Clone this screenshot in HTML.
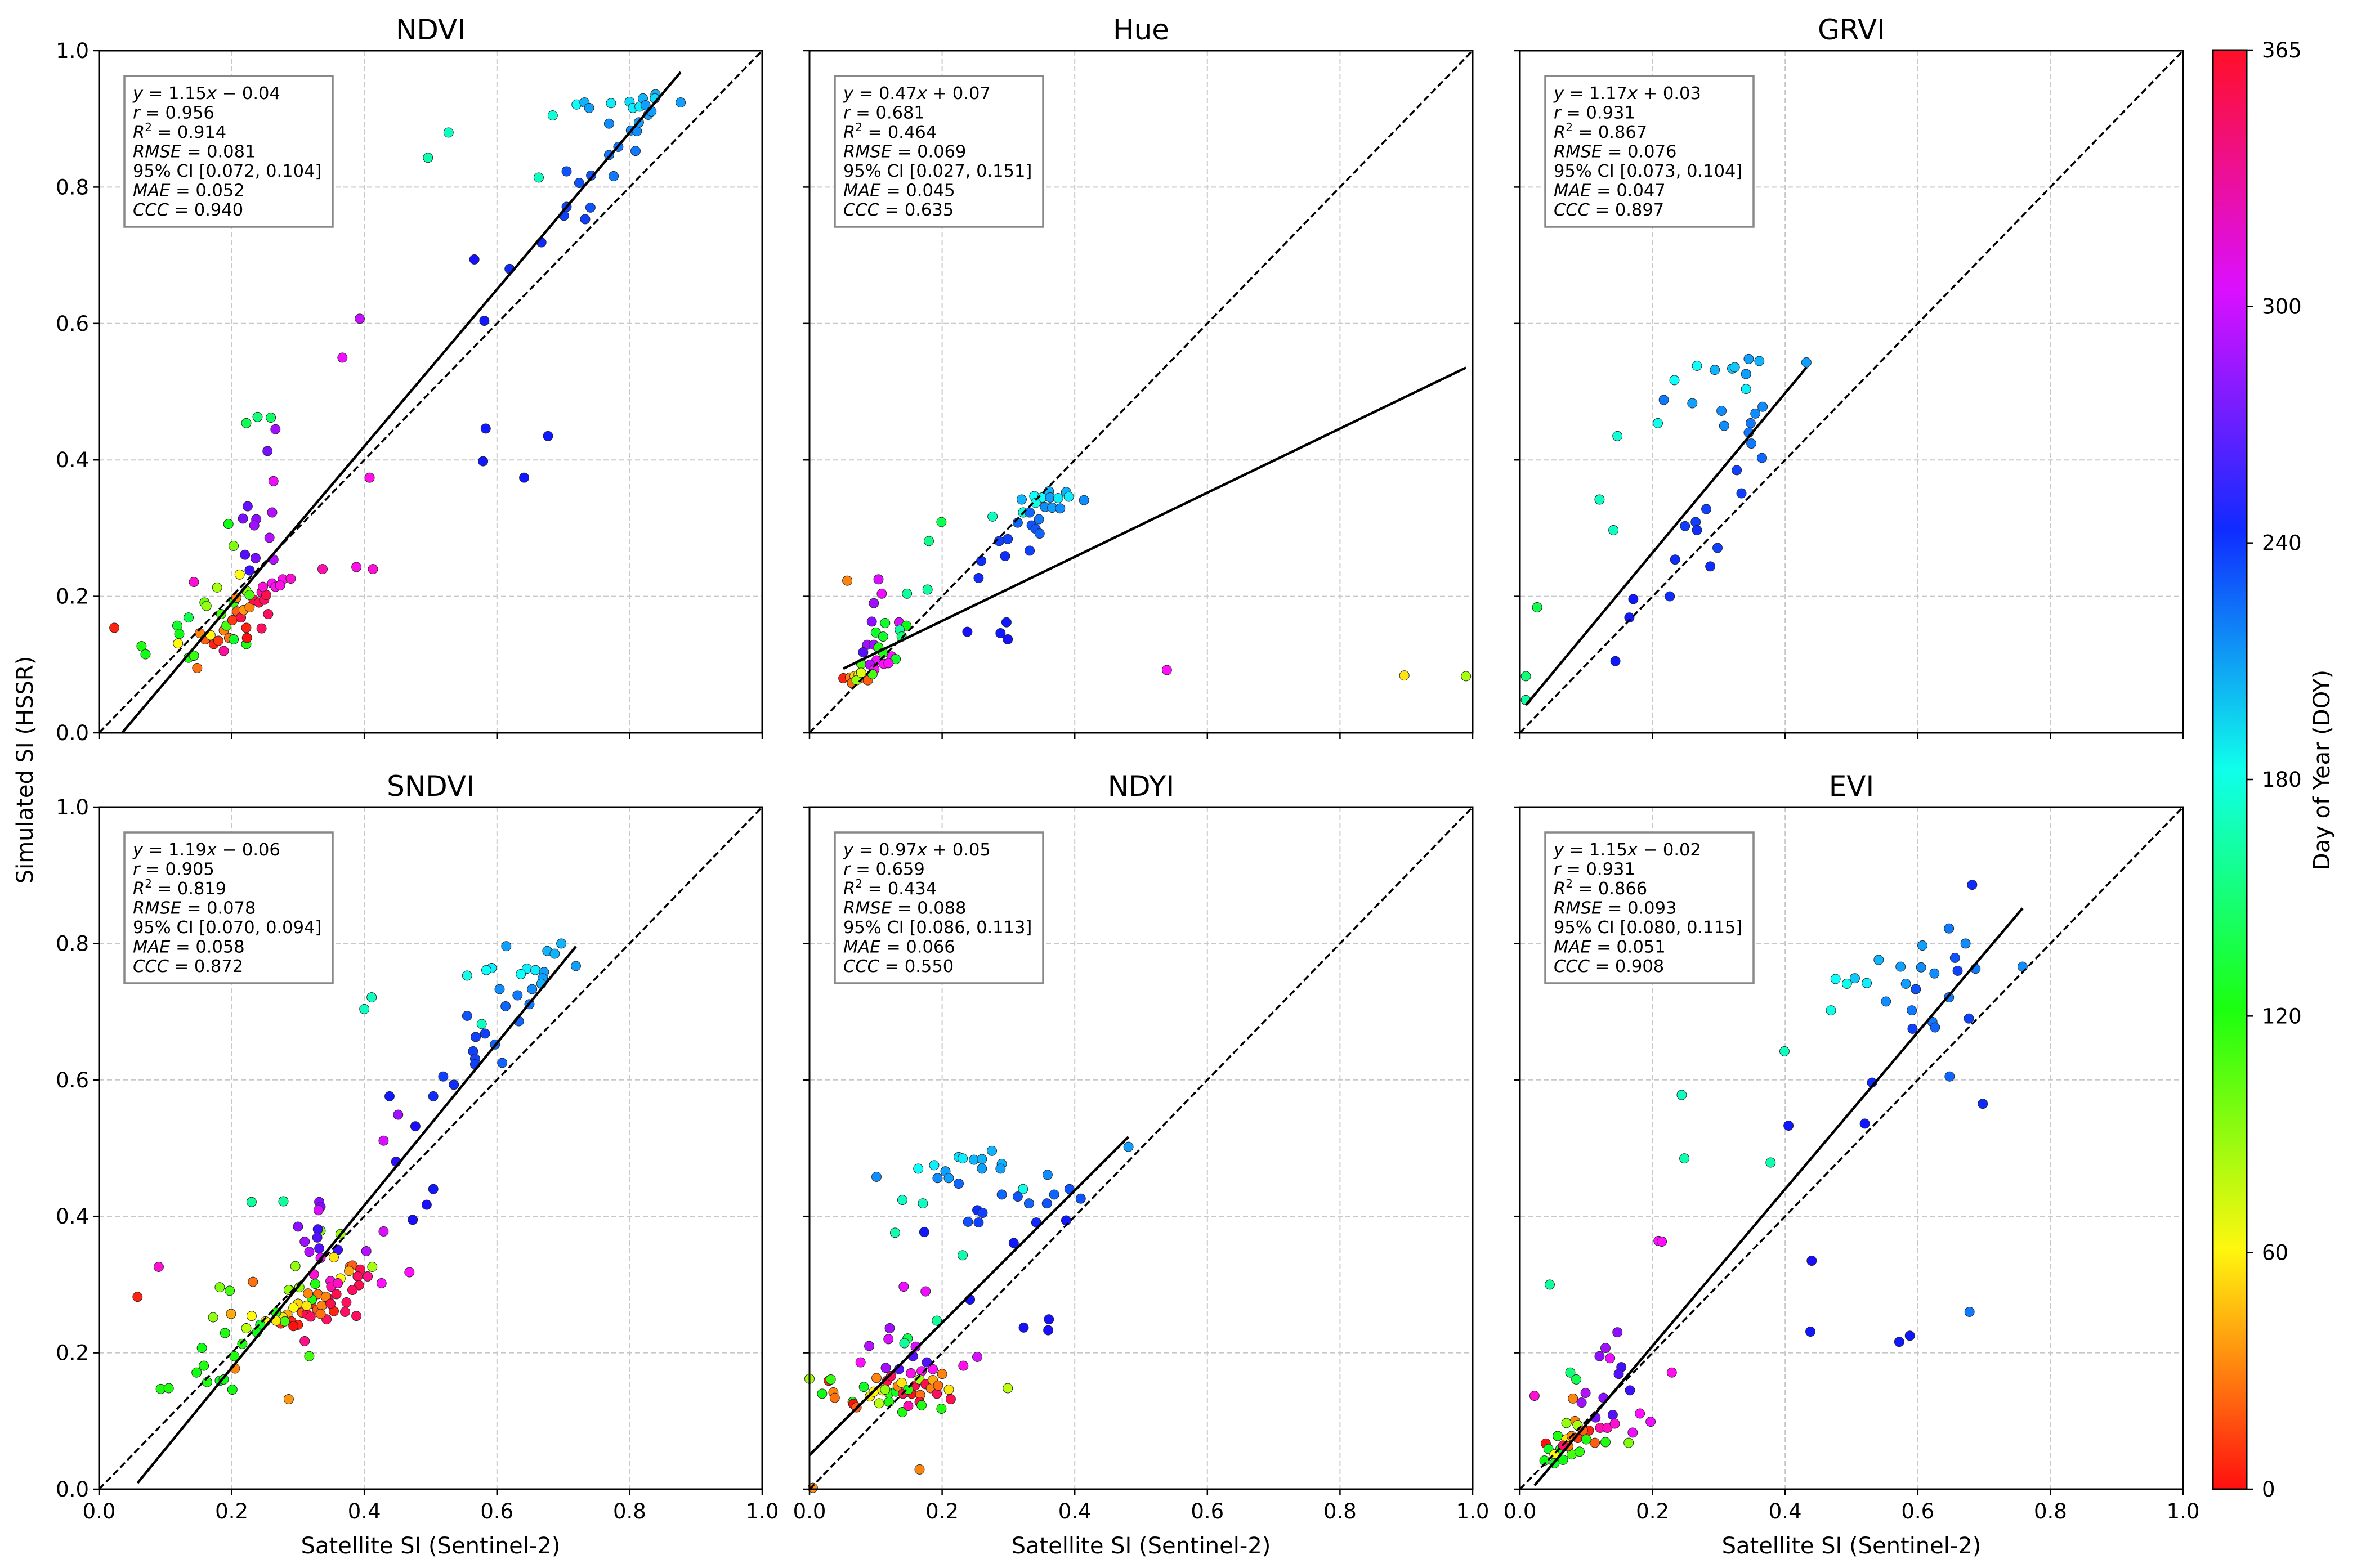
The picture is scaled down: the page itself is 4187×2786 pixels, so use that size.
<!DOCTYPE html>
<html><head><meta charset="utf-8"><title>Satellite vs Simulated SI</title>
<style>
html,body{margin:0;padding:0;background:#fff;}
svg{display:block;font-family:"DejaVu Sans","Liberation Sans",sans-serif;}
</style></head>
<body>
<svg id="fig" xmlns="http://www.w3.org/2000/svg" width="4187" height="2786" viewBox="0 0 4187 2786">
<rect x="0" y="0" width="4187" height="2786" fill="#fff"/>
<defs>
<linearGradient id="cbg" x1="0" y1="1" x2="0" y2="0">
<stop offset="0" stop-color="hsl(0,100%,53%)"/>
<stop offset="0.1667" stop-color="hsl(58,100%,53%)"/>
<stop offset="0.3333" stop-color="hsl(117,100%,53%)"/>
<stop offset="0.5" stop-color="hsl(175,100%,53%)"/>
<stop offset="0.6667" stop-color="hsl(233,100%,53%)"/>
<stop offset="0.8333" stop-color="hsl(291,100%,53%)"/>
<stop offset="1" stop-color="hsl(354,100%,53%)"/>
</linearGradient>
</defs>
<g id="panels"></g>
<g id="cbar">
<rect x="3931" y="89" width="60" height="2557" fill="url(#cbg)" stroke="#000" stroke-width="3"/>
</g>
<text x="0" y="0" transform="translate(58,1368) rotate(-90)" text-anchor="middle" font-size="40">Simulated SI (HSSR)</text>
<text x="0" y="0" transform="translate(4138,1368) rotate(-90)" text-anchor="middle" font-size="40">Day of Year (DOY)</text>
</svg>
<script>
const NS="http://www.w3.org/2000/svg";
// ---------------- data ----------------
const panelNames=["NDVI","Hue","GRVI","SNDVI","NDYI","EVI"];
const tickVals=[0,0.2,0.4,0.6,0.8,1.0];
const tickLabels=["0.0","0.2","0.4","0.6","0.8","1.0"];
const cbTicks=[0,60,120,180,240,300,365];
const cbTickLabels=["0","60","120","180","240","300","365"];

const ndviSat=[.023,.064,.070,.118,.135,.121,.119,.135,.143,.148,
.143,.159,.162,.178,.184,.152,.160,.168,.173,.180,
.188,.192,.188,.196,.201,.203,.207,.208,.214,.218,
.222,.222,.223,.227,.203,.233,.241,.245,.249,.255,
.245,.252,.195,.203,.212,.222,.227,.222,.239,.259,
.266,.254,.263,.261,.224,.217,.237,.234,.257,.220,
.236,.263,.227,.247,.261,.266,.277,.289,.273,.337,
.388,.413,.367,.393,.408,.496,.527,.566,.581,.619,
.583,.579,.641,.677,.667,.663,.684,.701,.705,.705,
.724,.733,.741,.742,.720,.732,.739,.772,.769,.769,
.776,.783,.800,.805,.802,.809,.811,.815,.814,.820,
.824,.828,.833,.839,.838,.877];
const ndviSim=[.154,.127,.115,.157,.169,.145,.131,.110,.113,.095,
.221,.191,.186,.213,.174,.146,.137,.143,.130,.135,
.150,.157,.120,.139,.165,.191,.198,.178,.169,.180,
.154,.130,.139,.184,.137,.195,.191,.206,.195,.174,
.153,.202,.306,.274,.232,.208,.202,.454,.463,.462,
.445,.413,.369,.323,.332,.314,.313,.304,.286,.261,
.256,.254,.238,.214,.219,.214,.225,.226,.216,.240,
.243,.240,.550,.607,.374,.843,.880,.694,.604,.680,
.446,.398,.374,.435,.719,.814,.905,.758,.771,.823,
.806,.753,.770,.817,.921,.924,.916,.923,.893,.847,
.816,.859,.925,.916,.883,.853,.882,.918,.895,.930,
.920,.906,.911,.936,.930,.924];
const ndviDoy=[5,120,125,130,140,125,60,120,115,25,
320,100,90,85,110,30,20,60,5,10,
30,110,335,25,10,115,30,20,355,35,
5,120,0,30,130,355,355,330,350,350,
350,355,125,95,60,90,110,140,150,145,
285,275,305,290,270,275,280,285,290,265,
275,290,260,320,310,315,315,320,315,330,
315,320,305,295,315,165,170,250,245,240,
245,245,245,245,240,170,175,235,235,230,
230,235,230,230,185,205,210,190,215,220,
220,220,195,190,215,220,215,190,210,205,
210,210,210,205,195,210];

const hueSat=[.057,.104,.109,.097,.094,.135,.114,.146,.136,.100,
.111,.139,.087,.097,.081,.104,.111,.124,.130,.078,
.101,.112,.119,.091,.098,.051,.061,.068,.074,.081,
.088,.064,.071,.095,.078,.178,.180,.199,.147,.276,
.320,.339,.351,.361,.363,.375,.387,.391,.414,.355,
.366,.378,.341,.322,.332,.346,.314,.335,.341,.347,
.286,.299,.295,.332,.259,.255,.238,.288,.297,.299,
.539,.897,.990];
const hueSim=[.223,.225,.204,.190,.163,.162,.161,.157,.151,.147,
.141,.141,.129,.129,.118,.125,.117,.112,.108,.101,
.106,.101,.102,.100,.093,.080,.081,.083,.085,.080,
.077,.073,.077,.086,.088,.210,.281,.309,.204,.317,
.342,.347,.345,.354,.345,.344,.353,.346,.341,.331,
.330,.329,.337,.323,.323,.313,.308,.304,.299,.292,
.281,.284,.259,.267,.252,.227,.148,.146,.162,.137,
.092,.084,.083];
const hueDoy=[30,300,305,285,280,300,130,125,160,130,
130,150,285,285,265,120,120,310,130,110,
305,310,310,290,310,5,30,50,60,25,
20,25,90,110,70,160,155,140,160,170,
205,185,185,205,210,190,205,190,215,215,
210,215,180,175,225,220,225,230,230,225,
235,235,240,235,240,240,250,245,245,250,
310,55,85];

const grviSat=[.267,.294,.320,.324,.345,.361,.341,.233,.341,.432,
.217,.260,.304,.366,.355,.308,.348,.208,.345,.349,
.365,.147,.327,.334,.281,.120,.265,.249,.267,.141,
.298,.234,.287,.226,.171,.165,.026,.144,.009,.009];
const grviSim=[.538,.532,.534,.536,.548,.545,.526,.517,.504,.543,
.488,.483,.472,.478,.468,.450,.454,.454,.440,.424,
.403,.435,.385,.351,.328,.342,.309,.303,.297,.297,
.271,.254,.244,.200,.196,.169,.184,.105,.083,.048];
const grviDoy=[185,205,200,200,210,205,210,185,190,210,
220,210,215,215,215,215,220,180,220,220,
225,175,235,235,235,170,235,235,240,170,
235,240,240,240,245,245,140,245,150,160];

const sndviSat=[.697,.614,.676,.687,.592,.584,.555,.645,.658,.636,
.671,.719,.669,.667,.604,.653,.631,.649,.411,.400,
.613,.555,.633,.577,.582,.568,.597,.564,.567,.567,
.608,.519,.535,.438,.504,.451,.477,.429,.448,.504,
.494,.473,.230,.278,.332,.334,.331,.300,.334,.330,
.364,.310,.329,.429,.403,.317,.332,.360,.334,.354,
.090,.058,.296,.412,.468,.232,.182,.197,.172,.199,
.230,.222,.190,.155,.216,.158,.204,.147,.163,.182,
.188,.201,.093,.105,.205,.286,.310,.317,.287,.302,
.326,.378,.382,.394,.377,.364,.390,.405,.392,.382,
.426,.349,.350,.360,.324,.373,.358,.346,.371,.354,
.343,.388,.330,.319,.306,.300,.293,.284,.274,.290,
.300,.313,.319,.329,.336,.277,.280,.267,.251,.243,
.238,.321,.313,.342,.349,.334,.286,.315,.267,.293];
const sndviSim=[.800,.796,.789,.785,.764,.761,.753,.763,.761,.755,
.758,.767,.749,.741,.733,.733,.724,.711,.721,.704,
.708,.694,.686,.682,.668,.663,.652,.642,.631,.623,
.625,.605,.593,.576,.576,.549,.532,.511,.480,.440,
.417,.395,.421,.422,.421,.414,.409,.385,.379,.381,
.374,.363,.369,.378,.349,.348,.353,.351,.339,.340,
.326,.282,.327,.326,.318,.304,.296,.291,.252,.257,
.254,.236,.229,.207,.213,.181,.195,.171,.157,.159,
.161,.146,.147,.148,.177,.132,.217,.195,.292,.296,
.301,.326,.328,.322,.320,.309,.312,.312,.299,.292,
.302,.305,.297,.302,.315,.274,.286,.279,.260,.261,
.249,.254,.286,.272,.259,.272,.266,.256,.243,.246,
.241,.257,.253,.263,.269,.252,.246,.259,.246,.241,
.230,.278,.269,.282,.272,.257,.292,.287,.247,.239];
const sndviDoy=[205,210,205,205,190,185,180,190,190,185,
210,210,210,205,215,215,220,220,170,170,
225,230,225,170,235,235,225,235,235,235,
225,235,240,245,240,285,250,300,255,245,
250,250,160,160,280,275,300,280,95,260,
90,285,265,300,290,290,265,260,305,55,
320,5,90,85,310,25,95,110,90,40,
60,80,120,125,120,120,120,125,120,130,
125,125,120,120,30,35,340,110,95,90,
120,30,20,355,40,60,350,340,355,350,
310,320,330,325,320,350,355,355,350,5,
350,350,25,10,20,50,60,40,10,5,
5,355,350,20,30,55,110,120,60,130,
125,120,55,30,355,25,90,30,55,0];

const ndyiSat=[.481,.275,.225,.231,.248,.260,.188,.164,.290,.288,
.260,.205,.101,.193,.210,.225,.359,.322,.392,.290,
.314,.369,.331,.358,.409,.140,.171,.253,.261,.239,
.255,.342,.387,.129,.173,.308,.231,.142,.175,.242,
.192,.361,.323,.360,.121,.119,.148,.143,.090,.160,
.156,.253,.077,.177,.115,.135,.186,.232,.169,.153,
.200,.101,.000,.029,.032,.019,.036,.038,.065,.066,
.071,.082,.091,.097,.105,.110,.117,.123,.120,.120,
.130,.133,.139,.141,.140,.149,.154,.159,.166,.167,
.166,.169,.175,.183,.186,.192,.194,.199,.210,.213,
.299,.166,.005,.149,.114];
const ndyiSim=[.502,.496,.487,.485,.483,.484,.475,.470,.477,.470,
.470,.466,.458,.456,.456,.448,.461,.440,.440,.432,
.429,.432,.419,.419,.426,.424,.419,.409,.405,.392,
.391,.391,.394,.376,.377,.361,.343,.297,.290,.278,
.247,.249,.237,.233,.236,.220,.221,.214,.210,.209,
.195,.194,.186,.186,.178,.176,.176,.181,.173,.170,
.169,.163,.162,.159,.161,.140,.142,.134,.128,.125,
.120,.150,.136,.143,.126,.145,.159,.166,.141,.128,
.143,.151,.156,.140,.113,.122,.140,.152,.161,.138,
.128,.123,.154,.148,.160,.140,.152,.118,.146,.132,
.148,.029,.002,.146,.146];
const ndyiDoy=[210,205,195,190,205,205,190,185,205,210,
210,210,215,215,210,225,215,180,230,225,
230,225,225,230,230,170,170,240,235,230,
235,240,245,165,245,245,165,305,305,250,
160,250,250,250,285,300,140,160,290,300,
265,300,310,265,285,265,310,315,310,315,
30,30,85,5,115,125,30,25,125,0,
20,130,55,60,80,55,355,350,115,120,
130,30,55,355,120,330,0,355,85,25,
355,120,355,30,40,350,25,120,55,355,
80,30,35,120,90];

const eviSat=[.682,.647,.672,.607,.541,.574,.605,.625,.656,.660,
.687,.758,.476,.493,.505,.523,.582,.597,.552,.647,
.469,.591,.622,.626,.592,.677,.399,.648,.531,.698,
.244,.405,.520,.248,.378,.209,.214,.440,.045,.678,
.438,.572,.588,.147,.129,.120,.136,.153,.149,.229,
.076,.085,.166,.022,.099,.093,.080,.126,.181,.197,
.140,.114,.170,.164,.129,.083,.070,.087,.104,.095,
.113,.121,.132,.143,.039,.057,.070,.078,.087,.061,
.043,.052,.065,.037,.052,.078,.090,.100,.073,.065];
const eviSim=[.886,.822,.800,.797,.776,.766,.765,.756,.779,.760,
.763,.766,.748,.741,.749,.742,.741,.733,.715,.721,
.702,.702,.685,.677,.675,.690,.642,.605,.596,.565,
.578,.533,.536,.485,.479,.364,.363,.335,.300,.260,
.231,.216,.225,.230,.207,.195,.192,.179,.169,.171,
.171,.161,.145,.137,.141,.127,.133,.134,.111,.099,
.109,.105,.083,.068,.069,.100,.097,.094,.086,.086,
.068,.090,.090,.096,.067,.078,.073,.078,.075,.059,
.059,.051,.043,.042,.038,.051,.055,.073,.063,.064];
const eviDoy=[240,220,215,210,205,210,215,215,230,235,
220,215,185,180,200,190,210,230,215,220,
180,220,220,225,235,235,170,225,240,240,
170,245,245,165,165,310,310,250,160,220,
245,245,245,280,285,280,305,260,265,315,
150,140,260,320,290,285,30,280,310,305,
265,275,305,95,120,30,90,85,5,20,
20,330,325,320,0,120,55,30,10,130,
130,60,125,125,130,110,115,120,25,350];

const fitSlopes=[1.15,0.47,1.17,1.19,0.97,1.15];
const fitIntercepts=[-0.04,0.07,0.03,-0.06,0.05,-0.02];
const statR=["0.956","0.681","0.931","0.905","0.659","0.931"];
const statR2=["0.914","0.464","0.867","0.819","0.434","0.866"];
const statRMSE=["0.081","0.069","0.076","0.078","0.088","0.093"];
const statCI=["[0.072, 0.104]","[0.027, 0.151]","[0.073, 0.104]","[0.070, 0.094]","[0.086, 0.113]","[0.080, 0.115]"];
const statMAE=["0.052","0.045","0.047","0.058","0.066","0.051"];
const statCCC=["0.940","0.635","0.897","0.872","0.550","0.908"];

const satData=[ndviSat,hueSat,grviSat,sndviSat,ndyiSat,eviSat];
const simData=[ndviSim,hueSim,grviSim,sndviSim,ndyiSim,eviSim];
const doyData=[ndviDoy,hueDoy,grviDoy,sndviDoy,ndyiDoy,eviDoy];

// ---------------- layout ----------------
const colL=[176,1438,2700], rowT=[90,1434], PW=1178, PH=1212;
function doyColor(d){return "hsl("+(d*0.97).toFixed(1)+",100%,53%)";}
function mk(tag,attrs,parent){const e=document.createElementNS(NS,tag);for(const k in attrs)e.setAttribute(k,attrs[k]);if(parent)parent.appendChild(e);return e;}
const root=document.getElementById("panels");

panelNames.forEach((name,i)=>{
  const L=colL[i%3], T=rowT[Math.floor(i/3)];
  const sx=v=>L+v*PW, sy=v=>T+PH-v*PH;
  const g=mk("g",{},root);
  
  
  [0.2,0.4,0.6,0.8].forEach(v=>{
    const gv=mk("line",{x1:sx(v),x2:sx(v),y1:T,y2:T+PH,stroke:"#c8c8c8","stroke-width":2,"stroke-dasharray":"9,5"},g);
    
    
    const gh=mk("line",{x1:L,x2:L+PW,y1:sy(v),y2:sy(v),stroke:"#c8c8c8","stroke-width":2,"stroke-dasharray":"9,5"},g);
    
    
  });
  const xs=satData[i], ys=simData[i], ds=doyData[i];
  for(let k=0;k<xs.length;k++){
    const c=mk("circle",{cx:sx(xs[k]).toFixed(1),cy:sy(ys[k]).toFixed(1),r:8.5,fill:doyColor(ds[k]),stroke:"#222","stroke-width":0.9},g);
    
    
  }
  const idl=mk("line",{x1:sx(0),y1:sy(0),x2:sx(1),y2:sy(1),stroke:"#000","stroke-width":3.5,"stroke-dasharray":"12,6"},g);
  
  
  const m=fitSlopes[i], b=fitIntercepts[i];
  let x0=Math.min(...xs), x1=Math.max(...xs);
  if(m*x0+b<0) x0=-b/m;
  const fl=mk("line",{x1:sx(x0),y1:sy(m*x0+b),x2:sx(x1),y2:sy(m*x1+b),stroke:"#000","stroke-width":4.5},g);
  
  
  const fr=mk("rect",{x:L,y:T,width:PW,height:PH,fill:"none",stroke:"#000","stroke-width":3},g);
  
  
  tickVals.forEach((v,j)=>{
    const tx=mk("line",{x1:sx(v),x2:sx(v),y1:T+PH,y2:T+PH+11,stroke:"#000","stroke-width":2.5},g);
    
    
    const ty=mk("line",{x1:L-11,x2:L,y1:sy(v),y2:sy(v),stroke:"#000","stroke-width":2.5},g);
    
    
    if(i>=3){
      const tl=mk("text",{x:sx(v),y:T+PH+52,"text-anchor":"middle","font-size":37},g);
      tl.textContent=tickLabels[j];
      
      
    }
    if(i%3===0){
      const tl=mk("text",{x:L-18,y:sy(v)+13,"text-anchor":"end","font-size":37},g);
      tl.textContent=tickLabels[j];
      
      
    }
  });
  if(i>=3){
    const xl=mk("text",{x:L+PW/2,y:T+PH+114,"text-anchor":"middle","font-size":40},g);
    xl.textContent="Satellite SI (Sentinel-2)";
    
    
  }
  const tt=mk("text",{x:L+PW/2,y:T-20,"text-anchor":"middle","font-size":50},g);
  tt.textContent=name;
  
  
  const bx=mk("rect",{x:L+45,y:T+45,width:370,height:268,fill:"#fff",stroke:"#888","stroke-width":3.5},g);
  
  
  const sign=b<0?"\u2212 ":"+ ";
  const lines=[
    [["y","i"],[" = "+m.toFixed(2),""],["x","i"],[" "+sign+Math.abs(b).toFixed(2),""]],
    [["r","i"],[" = "+statR[i],""]],
    [["R","i"],["2","s"],[" = "+statR2[i],""]],
    [["RMSE","i"],[" = "+statRMSE[i],""]],
    [["95% CI "+statCI[i],""]],
    [["MAE","i"],[" = "+statMAE[i],""]],
    [["CCC","i"],[" = "+statCCC[i],""]]
  ];
  lines.forEach((ln,li)=>{
    const t=mk("text",{x:L+60,y:T+86+li*34.5,"font-size":30.5},g);
    
    
    ln.forEach(([s,st])=>{
      const sp=mk("tspan",{},t);
      if(st==="i") sp.setAttribute("font-style","italic");
      if(st==="s"){sp.setAttribute("font-size","20");sp.setAttribute("dy","-12");}
      if(st===""&&ln.some(q=>q[1]==="s")){sp.setAttribute("dy","12");}
      sp.textContent=s;
    });
  });
});

const cb=document.getElementById("cbar");
const cbT=89, cbB=2646;
cbTicks.forEach((v,j)=>{
  const y=cbB-(v/365)*(cbB-cbT);
  const tk=mk("line",{x1:3991,x2:4003,y1:y,y2:y,stroke:"#000","stroke-width":2.5},cb);
  
  
  const tl=mk("text",{x:4018,y:y+13,"font-size":37},cb);
  tl.textContent=cbTickLabels[j];
  
  
});
</script>
</body></html>
